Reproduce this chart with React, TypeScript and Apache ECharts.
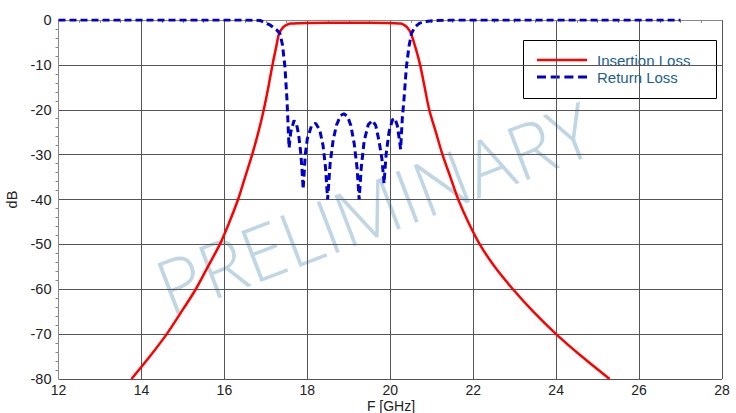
import React, { useEffect, useRef } from "react";
import * as echarts from "echarts";

const insertionLossF = [13.76, 14.2, 14.61, 15.0, 15.31, 15.6, 15.89, 16.1, 16.33, 16.5, 16.67, 16.82, 16.95, 17.06, 17.16, 17.25, 17.32, 17.42, 17.5, 17.6, 17.8, 18.5, 19.5, 20.1, 20.25, 20.35, 20.42, 20.5, 20.62, 20.72, 20.83, 20.94, 21.1, 21.26, 21.45, 21.64, 21.88, 22.16, 22.52, 22.96, 23.45, 24.0, 24.62, 25.29];
const insertionLossDb = [-80, -75, -70, -64.5, -60, -55, -50, -45.5, -40, -35, -30, -25, -20, -15, -10, -6, -3, -1.6, -1.1, -0.8, -0.7, -0.6, -0.6, -0.7, -0.8, -1.2, -1.8, -3, -6.5, -10, -15, -20, -25, -30, -35, -40, -45, -50, -55, -60, -65, -70, -75, -80];

const returnLossF = [12, 16.5, 16.86, 17.1, 17.26, 17.34, 17.4, 17.46, 17.51, 17.56, 17.6, 17.68, 17.74, 17.79, 17.84, 17.87, 17.9, 17.95, 18.0, 18.1, 18.2, 18.3, 18.38, 18.44, 18.49, 18.55, 18.62, 18.7, 18.8, 18.88, 18.97, 19.05, 19.13, 19.2, 19.25, 19.3, 19.37, 19.47, 19.57, 19.65, 19.73, 19.8, 19.85, 19.9, 19.97, 20.05, 20.11, 20.17, 20.21, 20.25, 20.29, 20.33, 20.39, 20.45, 20.51, 20.6, 20.71, 20.9, 21.1, 21.5, 27];
const returnLossDb = [0, 0, -0.1, -1.1, -2.2, -3, -5.5, -10.4, -17.8, -28.5, -25, -22.4, -23.2, -25.5, -29.5, -33, -37.7, -30, -26.5, -23.6, -23.0, -24.5, -28, -33, -40, -32, -27, -23.5, -21.3, -20.9, -21.5, -23.5, -27.5, -33, -40, -33, -27, -23.3, -22.4, -23.5, -27, -31, -36.4, -30, -25, -22.3, -21.9, -23.5, -26, -28.8, -22, -17.8, -10.4, -6, -3, -1.5, -0.7, -0.3, -0.1, 0, 0];

const xTicks = { min: 12, max: 28, step: 2 };
const yTicks = { min: -80, max: 0, step: 10 };
const seriesNames = ["Insertion Loss", "Return Loss"];
const axisNames = { x: "F [GHz]", y: "dB" };
const watermark = "PRELIMINARY";

const FONT = "'Liberation Sans', Arial, sans-serif";
const RED = "#ff0000";
const BLUE = "#0000cc";
const LEGEND_TEXT = "#1c5f8e";

export default function App() {
  const ref = useRef<HTMLDivElement>(null);
  useEffect(() => {
    document.body.style.margin = "0";
    document.body.style.overflow = "hidden";
    if (!ref.current) return;
    const chart = echarts.init(ref.current, undefined, { renderer: "svg" });
    const il = insertionLossF.map((f, i) => [f, insertionLossDb[i]]);
    const rl = returnLossF.map((f, i) => [f, returnLossDb[i]]);
    chart.setOption({
      animation: false,
      backgroundColor: "#ffffff",
      textStyle: { fontFamily: FONT },
      grid: { left: 58.5, right: 14, top: 20, bottom: 34, containLabel: false, outerBoundsMode: "none" },
      xAxis: {
        type: "value",
        min: xTicks.min,
        max: xTicks.max,
        interval: xTicks.step,
        axisLine: { show: true, lineStyle: { color: "#888", width: 1 } },
        axisTick: { show: false },
        minorTick: { show: true, splitNumber: 4, length: 3, lineStyle: { color: "#888" } },
        axisLabel: { fontSize: 14, color: "#222", margin: 4, fontFamily: FONT },
        splitLine: { show: true, lineStyle: { color: "#555", width: 1 } },
      },
      yAxis: {
        type: "value",
        min: yTicks.min,
        max: yTicks.max,
        interval: yTicks.step,
        name: axisNames.y,
        nameLocation: "middle",
        nameGap: 32,
        nameRotate: 90,
        nameTextStyle: { fontSize: 14.5, color: "#222", fontFamily: FONT },
        axisLine: { show: true, lineStyle: { color: "#888", width: 1 } },
        axisTick: { show: false },
        minorTick: { show: true, splitNumber: 5, length: 3, lineStyle: { color: "#888" } },
        axisLabel: { fontSize: 14.5, color: "#222", margin: 7, fontFamily: FONT },
        splitLine: { show: true, lineStyle: { color: "#555", width: 1 } },
      },
      graphic: [
        {
          type: "text",
          x: 374,
          y: 207,
          rotation: (21 * Math.PI) / 180,
          z: -10,
          silent: true,
          style: {
            text: watermark,
            fontSize: 76,
            fontFamily: "'Open Sans', 'Liberation Sans', sans-serif",
            fontWeight: 300,
            fill: "rgba(140,180,205,0.55)",
            align: "center",
            verticalAlign: "middle",
          },
        },
        {
          type: "text",
          x: 391,
          y: 406,
          style: {
            text: axisNames.x,
            fontSize: 14,
            fill: "#222",
            fontFamily: FONT,
            align: "center",
            verticalAlign: "middle",
          },
        },
        {
          type: "group",
          z: 100,
          children: [
            {
              type: "rect",
              shape: { x: 523.5, y: 40.5, width: 193, height: 58 },
              style: { fill: "#ffffff", stroke: "#000", lineWidth: 1 },
            },
            {
              type: "line",
              shape: { x1: 537, y1: 60, x2: 587, y2: 60 },
              style: { stroke: RED, lineWidth: 2.5 },
            },
            {
              type: "line",
              shape: { x1: 537, y1: 77, x2: 587, y2: 77 },
              style: { stroke: BLUE, lineWidth: 3, lineDash: [9, 4.7] },
            },
            {
              type: "text",
              x: 597,
              y: 60,
              style: { text: seriesNames[0], fontSize: 15, fill: LEGEND_TEXT, fontFamily: FONT, verticalAlign: "middle" },
            },
            {
              type: "text",
              x: 597,
              y: 77,
              style: { text: seriesNames[1], fontSize: 15, fill: LEGEND_TEXT, fontFamily: FONT, verticalAlign: "middle" },
            },
          ],
        },
      ],
      series: [
        {
          name: seriesNames[0],
          type: "line",
          data: il,
          symbol: "none",
          smooth: 0.3,
          z: 3,
          lineStyle: { color: RED, width: 2.5 },
          itemStyle: { color: RED },
        },
        {
          name: seriesNames[1],
          type: "line",
          data: rl,
          symbol: "none",
          smooth: false,
          z: 4,
          lineStyle: { color: BLUE, width: 3, type: [7, 4] },
          itemStyle: { color: BLUE },
        },
      ],
    });
    return () => chart.dispose();
  }, []);
  return <div ref={ref} style={{ width: 736, height: 413 }} />;
}
